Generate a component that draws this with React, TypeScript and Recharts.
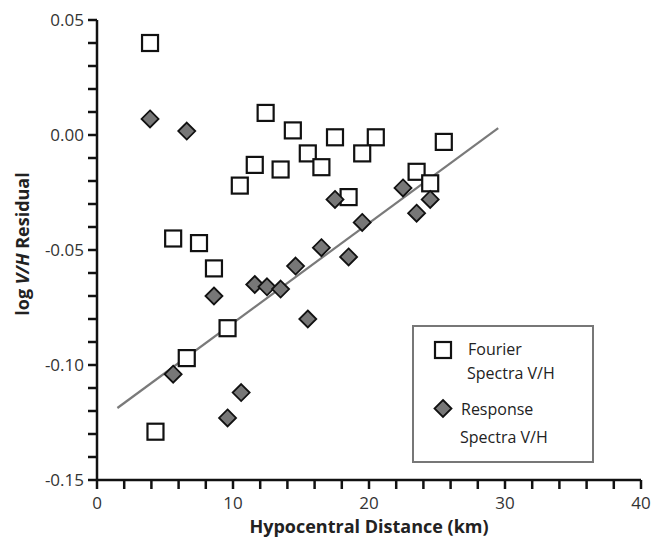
import { ScatterChart, Scatter, XAxis, YAxis } from 'recharts';

// Fourier spectra V/H residuals (open squares)
const fourierDist = [3.9, 12.4, 14.4, 15.5, 16.5, 13.5, 11.6, 10.5, 5.6, 7.5, 8.6, 9.6, 6.6, 4.3, 17.5, 20.5, 19.5, 18.5, 25.5, 23.5, 24.5];
const fourierResid = [0.04, 0.0096, 0.002, -0.008, -0.014, -0.015, -0.013, -0.022, -0.045, -0.047, -0.058, -0.084, -0.097, -0.129, -0.001, -0.001, -0.008, -0.027, -0.003, -0.016, -0.021];

// Response spectra V/H residuals (grey diamonds)
const responseDist = [3.9, 6.6, 16.5, 14.6, 8.6, 11.6, 12.5, 13.5, 15.5, 5.6, 10.6, 9.6, 17.5, 22.5, 24.5, 23.5, 19.5, 18.5];
const responseResid = [0.007, 0.0017, -0.049, -0.057, -0.07, -0.065, -0.066, -0.067, -0.08, -0.104, -0.112, -0.123, -0.028, -0.023, -0.028, -0.034, -0.038, -0.053];

// fitted trend line end points
const fitDist = [1.5, 29.5];
const fitResid = [-0.1187, 0.003];

const xTicks = [0, 2, 4, 6, 8, 10, 12, 14, 16, 18, 20, 22, 24, 26, 28, 30, 32, 34, 36, 38, 40];
const yTicks = [-0.15, -0.14, -0.13, -0.12, -0.11, -0.1, -0.09, -0.08, -0.07, -0.06, -0.05, -0.04, -0.03, -0.02, -0.01, 0, 0.01, 0.02, 0.03, 0.04, 0.05];

const fourierData = fourierDist.map((x, i) => ({ x, y: fourierResid[i] }));
const responseData = responseDist.map((x, i) => ({ x, y: responseResid[i] }));
const fitData = fitDist.map((x, i) => ({ x, y: fitResid[i] }));

const FONT = '"Open Sans", "Liberation Sans", sans-serif';

const SquareDot = (props: any) => {
  const { cx, cy } = props;
  if (cx == null || cy == null) return <g />;
  return <rect x={cx - 8} y={cy - 8} width={16} height={16} fill="#fff" stroke="#111" strokeWidth={2.2} />;
};

const DiamondDot = (props: any) => {
  const { cx, cy } = props;
  if (cx == null || cy == null) return <g />;
  const r = 8.5;
  return (
    <path
      d={`M${cx},${cy - r} L${cx + r},${cy} L${cx},${cy + r} L${cx - r},${cy} Z`}
      fill="#777"
      stroke="#111"
      strokeWidth={1.8}
    />
  );
};

const NoDot = () => <g />;

const LegendBox = () => (
  <svg width={182} height={138} style={{ display: 'block' }}>
    <rect x={1} y={1} width={180} height={136} fill="#fff" stroke="#777" strokeWidth={2} />
    <rect x={23} y={17} width={16} height={16} fill="#fff" stroke="#111" strokeWidth={2.2} />
    <text x={56} y={30} fontSize={16} fill="#222" fontFamily={FONT}>Fourier</text>
    <text x={55} y={54} fontSize={16} fill="#222" fontFamily={FONT}>Spectra V/H</text>
    <path d="M31,75 L39.5,83.5 L31,92 L22.5,83.5 Z" fill="#777" stroke="#111" strokeWidth={1.8} />
    <text x={49} y={90} fontSize={16} fill="#222" fontFamily={FONT}>Response</text>
    <text x={48} y={118} fontSize={16} fill="#222" fontFamily={FONT}>Spectra V/H</text>
  </svg>
);

const fmtX = (v: number) => (v % 10 === 0 ? String(v) : '');
const fmtY = (v: number) => (Math.round(v * 100) % 5 === 0 ? v.toFixed(2) : '');

export default function App() {
  return (
    <div style={{ position: 'absolute', left: 0, top: 0, width: 652, height: 542, background: '#fff' }}>
      <ScatterChart width={652} height={542} margin={{ top: 20, right: 11, bottom: 0, left: 37 }}>
        <XAxis
          type="number"
          dataKey="x"
          domain={[0, 40]}
          ticks={xTicks}
          interval={0}
          tickFormatter={fmtX}
          stroke="#111"
          strokeWidth={2.5}
          tickSize={9}
          tickMargin={8}
          height={62}
          tick={{ fill: '#333', fontSize: 17, fontFamily: FONT }}
          label={{
            value: 'Hypocentral Distance (km)',
            position: 'insideBottom',
            offset: 9,
            style: { fill: '#222', fontSize: 18, fontWeight: 700, fontFamily: FONT },
          }}
        />
        <YAxis
          type="number"
          dataKey="y"
          domain={[-0.15, 0.05]}
          ticks={yTicks}
          interval={0}
          tickFormatter={fmtY}
          stroke="#111"
          strokeWidth={2.5}
          tickSize={9}
          tickMargin={4}
          width={60}
          tick={{ fill: '#333', fontSize: 17, fontFamily: FONT }}
          label={() => {
            const cx = 22;
            const cy = 244;
            return (
              <text
                x={cx}
                y={cy}
                transform={`rotate(-90, ${cx}, ${cy})`}
                textAnchor="middle"
                dominantBaseline="central"
                fill="#222"
                fontSize={18}
                fontWeight={700}
                fontFamily={FONT}
              >
                log <tspan fontStyle="italic">V/H</tspan> Residual
              </text>
            );
          }}
        />
        <Scatter
          name="fit"
          data={fitData}
          line={{ stroke: '#7a7a7a', strokeWidth: 2.2 }}
          shape={NoDot}
          legendType="none"
          isAnimationActive={false}
        />
        <Scatter name="Fourier Spectra V/H" data={fourierData} shape={SquareDot} isAnimationActive={false} />
        <Scatter name="Response Spectra V/H" data={responseData} shape={DiamondDot} isAnimationActive={false} />
      </ScatterChart>
      <div style={{ position: 'absolute', left: 412, top: 325 }}>
        <LegendBox />
      </div>
    </div>
  );
}
